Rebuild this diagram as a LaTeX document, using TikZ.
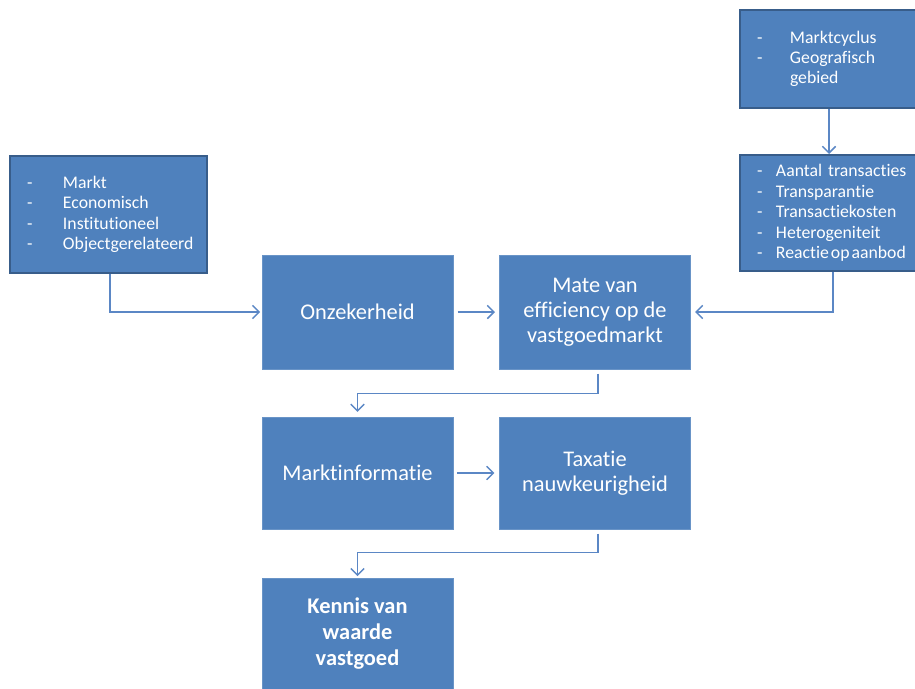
\documentclass[tikz,border=0pt]{standalone}
\usepackage{fontspec}
\setmainfont{Carlito}[Ligatures=NoCommon]
\usetikzlibrary{arrows.meta}
\definecolor{boxfill}{HTML}{4F81BD}
\definecolor{boxline}{HTML}{385D8A}
\definecolor{connc}{HTML}{5B87C5}
\newcommand\dsh[1]{\makebox[#1][l]{-}}
\begin{document}
\begin{tikzpicture}[x=0.75pt,y=-0.75pt,
  bigbox/.style={fill=boxfill, draw=boxfill!85!white, line width=0.75pt,
    minimum width=143.25pt, minimum height=85.5pt, text=white,
    font=\fontsize{16.8}{18.8}\selectfont, align=center, inner sep=0pt},
  listbox/.style={fill=boxfill, draw=boxline, line width=1.5pt, text=white,
    font=\fontsize{13.3}{15.4}\selectfont, align=left, inner xsep=12.75pt, inner ysep=0pt},
  connector/.style={draw=connc, line width=1.1pt, -{Straight Barb[length=5pt,width=10pt]}}]
\useasboundingbox (0,0) rectangle (915,689);
\clip (0,0) rectangle (915,689);

\node[listbox, text width=122.25pt, minimum height=87.75pt] (L) at (108.5,214.5)
  {\dsh{27pt}Markt\\ \dsh{27pt}Economisch\\ \dsh{27pt}Institutioneel\\ \dsh{27pt}Objectgerelateerd};
\node[listbox, text width=108pt, minimum height=73.5pt, font=\fontsize{13.3}{15}\selectfont] (TR) at (829,59)
  {\dsh{24.75pt}Marktcyclus\\ \dsh{24.75pt}Geografisch\\ \hspace*{24.75pt}gebied};
\node[listbox, text width=114pt, minimum height=87pt] (R2) at (833,213)
  {\dsh{14.25pt}Aantal transacties\\ \dsh{14.25pt}Transparantie\\ \dsh{14.25pt}Transactiekosten\\ \dsh{14.25pt}Heterogeniteit\\ \dsh{14.25pt}Reactie\hspace{1.5pt}op\hspace{1.5pt}aanbod};

\node[bigbox] (onz) at (357.5,312) {Onzekerheid};
\node[bigbox] (mate) at (595,312) {Mate van\\efficiency op de\\vastgoedmarkt};
\node[bigbox, minimum height=84pt] (mi) at (357.5,473) {Marktinformatie};
\node[bigbox, minimum height=84pt] (tax) at (595,473) {Taxatie\\nauwkeurigheid};
\node[bigbox, minimum height=84pt, font=\fontsize{16.8}{19.5}\selectfont\bfseries] (ken) at (357.5,634) {Kennis van\\waarde\\vastgoed};

\draw[connector, shorten >=1pt] ([xshift=1.1pt]L.south) |- (onz.west);
\draw[connector, shorten <=3pt, shorten >=3pt] (onz.east) -- (mate.west);
\draw[connector, shorten >=3pt] (R2.south) |- (mate.east);
\draw[connector] (TR.south) -- (TR.south |- R2.north);
\draw[connector, shorten >=3.5pt] ([xshift=2.25pt,yshift=-3pt]mate.south) -- ++(0,20) -| (mi.north);
\draw[connector, shorten <=2.5pt, shorten >=3.5pt] (mi.east) -- (tax.west);
\draw[connector, shorten >=1pt] ([xshift=2.25pt,yshift=-3pt]tax.south) -- ++(0,19) -| (ken.north);
\end{tikzpicture}
\end{document}
